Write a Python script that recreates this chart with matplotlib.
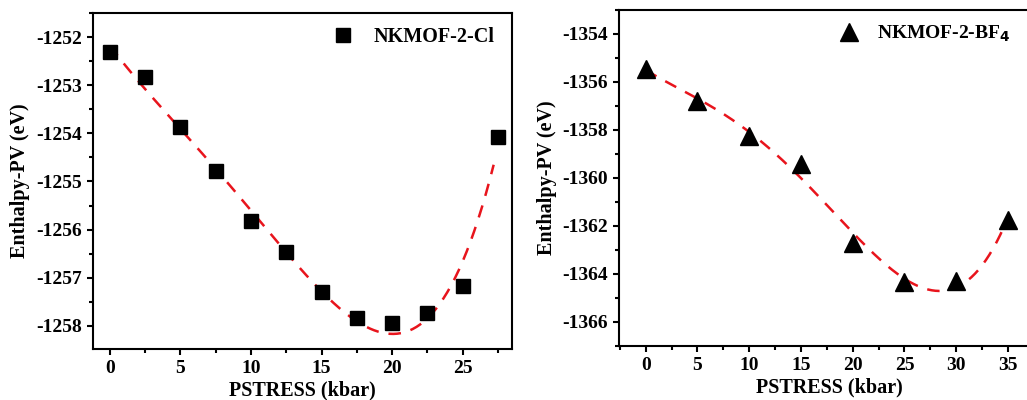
import numpy as np
from matplotlib import pyplot as plt
from matplotlib.ticker import MultipleLocator

# NKMOF-2-Cl
cl_p = [0, 2.5, 5, 7.5, 10, 12.5, 15, 17.5, 20, 22.5, 25, 27.5]
cl_h = [-1252.32, -1252.83, -1253.87, -1254.79, -1255.83, -1256.47,
        -1257.30, -1257.83, -1257.93, -1257.73, -1257.17, -1254.07]

# NKMOF-2-BF4
bf_p = [0, 5, 10, 15, 20, 25, 30, 35]
bf_h = [-1355.45, -1356.78, -1358.27, -1359.40, -1362.70, -1364.33,
        -1364.29, -1361.73]

plt.rcParams['font.family'] = ['Liberation Serif', 'DejaVu Serif']
plt.rcParams['font.weight'] = 'bold'
plt.rcParams['axes.labelweight'] = 'bold'

fig = plt.figure(figsize=(10.27, 4.0), dpi=100)
ax1 = fig.add_axes([93 / 1027, 51 / 400, 419 / 1027, 336 / 400])
ax2 = fig.add_axes([619 / 1027, 54 / 400, 420 / 1027, 336 / 400])


def style(ax, xmin, xmaj, ymin):
    for s in ax.spines.values():
        s.set_linewidth(1.5)
    ax.xaxis.set_minor_locator(MultipleLocator(xmin))
    ax.xaxis.set_major_locator(MultipleLocator(xmaj))
    ax.yaxis.set_minor_locator(MultipleLocator(ymin))
    ax.tick_params(which='both', direction='out', top=False, right=False,
                   width=1.5, labelsize=14)
    ax.tick_params(which='major', length=4.5)
    ax.tick_params(which='minor', length=3)
    ax.set_xlabel('PSTRESS (kbar)', fontsize=14.5, labelpad=2.5)
    ax.set_ylabel('Enthalpy-PV (eV)', fontsize=14.5, labelpad=4)
    fmt = lambda v, pos: f'{v:g}'
    ax.xaxis.set_major_formatter(fmt)
    ax.yaxis.set_major_formatter(fmt)


# left panel
c1 = np.polyfit(cl_p, cl_h, 4)
xx = np.linspace(0, 27.2, 200)
ax1.plot(xx, np.polyval(c1, xx), color='#e8141c', ls=(0, (5, 4)), lw=1.8)
ax1.plot(cl_p, cl_h, 's', color='black', ms=10.5, label='NKMOF-2-Cl')
ax1.set_xlim(-1.2, 28.5)
ax1.set_ylim(-1258.48, -1251.5)
style(ax1, 2.5, 5, 0.5)
ax1.legend(loc='upper left', bbox_to_anchor=(0.515, 1.0), frameon=False,
           fontsize=14.5, handletextpad=0.5, borderaxespad=0.3)

# right panel
c2 = np.polyfit(bf_p, bf_h, 4)
xx = np.linspace(0, 34.6, 200)
ax2.plot(xx, np.polyval(c2, xx), color='#e8141c', ls=(0, (5, 4)), lw=1.8)
ax2.plot(bf_p, bf_h, '^', color='black', ms=13,
         label='NKMOF-2-BF$_\\mathbf{4}$')
ax2.set_xlim(-2.58, 38.0)
ax2.set_ylim(-1367, -1353)
ax2.set_yticks([-1354, -1356, -1358, -1360, -1362, -1364, -1366])
style(ax2, 2.5, 5, 1)
ax2.set_xticks([0, 5, 10, 15, 20, 25, 30, 35])
ax2.legend(loc='upper left', bbox_to_anchor=(0.47, 1.0), frameon=False,
           fontsize=14, handletextpad=0.4, borderaxespad=0.3)

fig.savefig('out.png', dpi=100)
